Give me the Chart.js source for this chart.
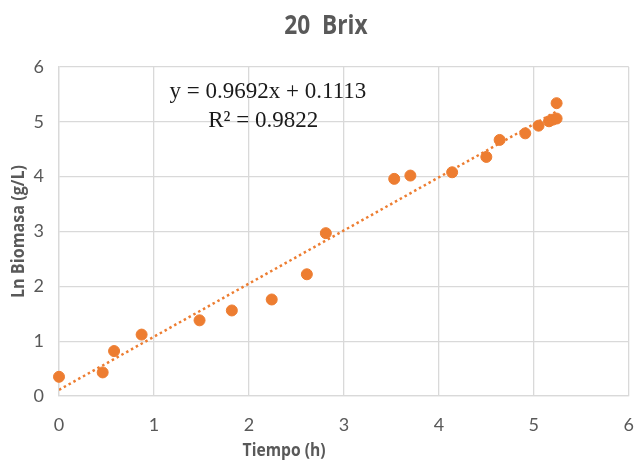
<!DOCTYPE html>
<html>
<head>
<meta charset="utf-8">
<script src="https://cdn.jsdelivr.net/npm/chart.js@4.4.1/dist/chart.umd.min.js"></script>
<style>
  html, body { margin: 0; padding: 0; background: #ffffff; }
  #wrap { width: 636px; height: 462px; }
</style>
</head>
<body>
<div id="wrap"><canvas id="c" width="636" height="462"></canvas></div>
<script>
// ---- data ----
const tiempo = [0, 0.46, 0.58, 0.87, 1.48, 1.82, 2.24, 2.61, 2.81, 3.53, 3.70, 4.14, 4.50, 4.64, 4.91, 5.05, 5.16, 5.20, 5.24, 5.24];
const lnBiomasa = [0.35, 0.43, 0.82, 1.12, 1.38, 1.56, 1.76, 2.22, 2.97, 3.96, 4.02, 4.08, 4.36, 4.67, 4.79, 4.93, 5.01, 5.04, 5.06, 5.34];
const xTicks = [0, 1, 2, 3, 4, 5, 6];
const yTicks = [0, 1, 2, 3, 4, 5, 6];
const slope = 0.9692;
const intercept = 0.1113;
const r2 = 0.9822;
const chartTitle = '20  Brix';
const xTitle = 'Tiempo (h)';
const yTitle = 'Ln Biomasa (g/L)';

const ORANGE = '#ED7D31';
const GRID = '#D9D9D9';
const TEXT = '#595959';
const SANS = '"Open Sans", Lato, sans-serif';

const points = tiempo.map((x, i) => ({ x: x, y: lnBiomasa[i] }));
const xMin = Math.min(...tiempo), xMax = Math.max(...tiempo);
const trend = [xMin, xMax].map(x => ({ x: x, y: slope * x + intercept }));

// draws the chart title, axis titles and the trendline equation
const textPlugin = {
  id: 'texts',
  afterDraw(chart) {
    const { ctx, scales, width } = chart;
    const xs = scales.x, ys = scales.y;
    ctx.save();
    // chart title (condensed bold)
    ctx.fillStyle = TEXT;
    ctx.font = 'bold 27px ' + SANS;
    ctx.textAlign = 'center';
    ctx.textBaseline = 'alphabetic';
    ctx.save();
    ctx.translate(width / 2 + 8, 34);
    ctx.scale(0.84, 1);
    ctx.fillText(chartTitle, 0, 0);
    ctx.restore();

    // x axis title
    ctx.font = 'bold 17px ' + SANS;
    ctx.save();
    ctx.translate(xs.getPixelForValue(2.37), 456);
    ctx.scale(0.92, 1);
    ctx.fillText(xTitle, 0, 0);
    ctx.restore();

    // y axis title
    ctx.save();
    ctx.translate(24, (ys.top + ys.bottom) / 2);
    ctx.rotate(-Math.PI / 2);
    ctx.scale(0.95, 1);
    ctx.fillText(yTitle, 0, 0);
    ctx.restore();

    // trendline equation
    ctx.fillStyle = '#1a1a1a';
    ctx.font = '23px "Liberation Serif", "Times New Roman", serif';
    ctx.textBaseline = 'middle';
    ctx.fillText('y = ' + slope.toFixed(4) + 'x + ' + intercept.toFixed(4), xs.getPixelForValue(2.2), ys.getPixelForValue(5.55));
    ctx.fillText('R\u00B2 = ' + r2.toFixed(4), xs.getPixelForValue(2.15), ys.getPixelForValue(5.02));
    ctx.restore();
  }
};

new Chart(document.getElementById('c'), {
  type: 'scatter',
  data: {
    datasets: [
      {
        type: 'line',
        label: 'Tendencia',
        data: trend,
        borderColor: ORANGE,
        borderWidth: 2.5,
        borderDash: [2.5, 3],
        pointRadius: 0,
        fill: false,
        order: 0
      },
      {
        label: 'Ln Biomasa',
        data: points,
        backgroundColor: ORANGE,
        borderColor: ORANGE,
        pointRadius: 5.5,
        pointHoverRadius: 5.5,
        clip: false,
        order: 1
      }
    ]
  },
  options: {
    responsive: false,
    animation: false,
    layout: { padding: { left: 0, right: 0, top: 67, bottom: 0 } },
    plugins: {
      legend: { display: false },
      tooltip: { enabled: false },
      title: { display: false }
    },
    scales: {
      x: {
        type: 'linear',
        min: 0, max: 6,
        afterBuildTicks(s) { s.ticks = xTicks.map(v => ({ value: v })); },
        afterFit(s) { s.height = 66; },
        ticks: { color: TEXT, font: { family: 'Lato, sans-serif', size: 18 }, padding: 2 },
        grid: { color: GRID, lineWidth: 1.3, drawTicks: true, tickLength: 16, tickColor: 'rgba(0,0,0,0)' },
        border: { color: GRID, width: 1.3 },
        title: { display: false }
      },
      y: {
        type: 'linear',
        min: 0, max: 6,
        afterBuildTicks(s) { s.ticks = yTicks.map(v => ({ value: v })); },
        afterFit(s) { s.width = 59; },
        ticks: { color: TEXT, font: { family: 'Lato, sans-serif', size: 18 }, padding: 15 },
        grid: { color: GRID, lineWidth: 1.3, drawTicks: false },
        border: { color: GRID, width: 1.3 },
        title: { display: false }
      }
    }
  },
  plugins: [textPlugin]
});
</script>
</body>
</html>
